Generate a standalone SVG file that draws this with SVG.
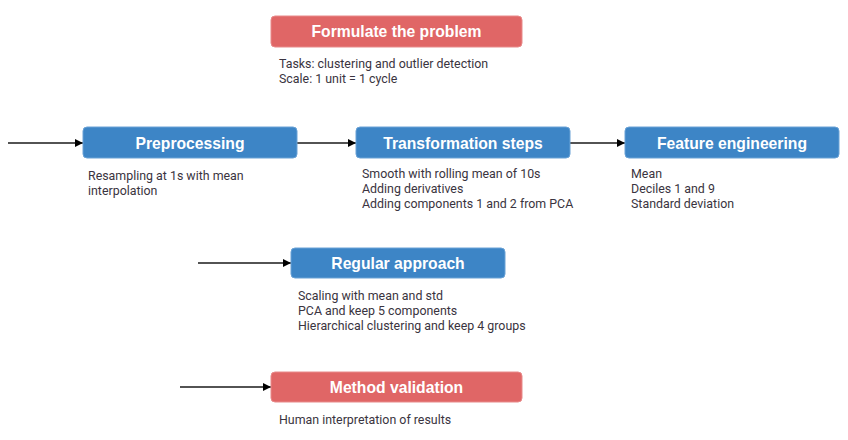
<svg xmlns="http://www.w3.org/2000/svg" width="848" height="440" viewBox="0 0 848 440">
<style>
.red{fill:#E06666;stroke:#e88a8a;stroke-width:1}
.blue{fill:#3D85C6;stroke:#6aa2d6;stroke-width:1}
.title{font-family:"Liberation Sans",Arial,sans-serif;font-weight:bold;font-size:15.7px;fill:#fff;text-anchor:middle}
.note{font-family:Roboto,"Liberation Sans",sans-serif;font-size:12.4px;fill:#3a3440}
.conn{stroke:#1a1a1a;stroke-width:1.3;fill:none;marker-end:url(#ah)}
</style>
<defs>
<marker id="ah" viewBox="0 0 10 10" refX="10" refY="5" markerWidth="8" markerHeight="8" markerUnits="userSpaceOnUse" orient="auto"><path d="M0,0 L10,5 L0,10 z" fill="#000"/></marker>
</defs>
<rect width="848" height="440" fill="#fff"/>
<g id="connectors">
<line class="conn" x1="8" y1="143" x2="83" y2="143"/>
<line class="conn" x1="297" y1="143" x2="356" y2="143"/>
<line class="conn" x1="570" y1="143" x2="625" y2="143"/>
<line class="conn" x1="198" y1="263" x2="291" y2="263"/>
<line class="conn" x1="180" y1="387" x2="271" y2="387"/>
</g>
<g id="formulate">
<rect class="red" x="271" y="16" width="251" height="31" rx="4"/>
<text class="title" x="396.5" y="37">Formulate the problem</text>
<text class="note" x="279" y="68">Tasks: clustering and outlier detection</text>
<text class="note" x="279" y="83">Scale: 1 unit = 1 cycle</text>
</g>
<g id="preprocessing">
<rect class="blue" x="83" y="127" width="214" height="31" rx="4"/>
<text class="title" x="190" y="148.5">Preprocessing</text>
<text class="note" x="88" y="180">Resampling at 1s with mean</text>
<text class="note" x="88" y="195">interpolation</text>
</g>
<g id="transformation">
<rect class="blue" x="356" y="127" width="214" height="31" rx="4"/>
<text class="title" x="463" y="148.5">Transformation steps</text>
<text class="note" x="362" y="178">Smooth with rolling mean of 10s</text>
<text class="note" x="362" y="193">Adding derivatives</text>
<text class="note" x="362" y="208">Adding components 1 and 2 from PCA</text>
</g>
<g id="feature">
<rect class="blue" x="625" y="127" width="214" height="31" rx="4"/>
<text class="title" x="732" y="148.5">Feature engineering</text>
<text class="note" x="631" y="178">Mean</text>
<text class="note" x="631" y="193">Deciles 1 and 9</text>
<text class="note" x="631" y="208">Standard deviation</text>
</g>
<g id="regular">
<rect class="blue" x="291" y="248" width="214" height="30" rx="4"/>
<text class="title" x="398" y="269">Regular approach</text>
<text class="note" x="298" y="300">Scaling with mean and std</text>
<text class="note" x="298" y="315">PCA and keep 5 components</text>
<text class="note" x="298" y="330">Hierarchical clustering and keep 4 groups</text>
</g>
<g id="validation">
<rect class="red" x="271" y="372" width="251" height="30" rx="4"/>
<text class="title" x="396.5" y="393">Method validation</text>
<text class="note" x="279" y="424">Human interpretation of results</text>
</g>
</svg>
